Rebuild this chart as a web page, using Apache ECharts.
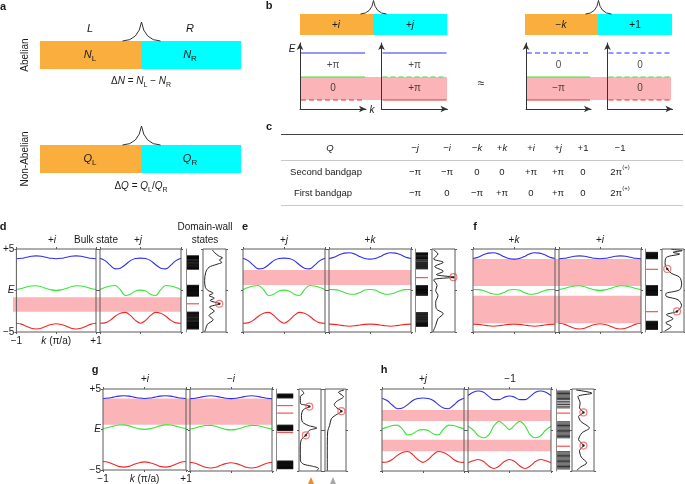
<!DOCTYPE html>
<html><head><meta charset="utf-8">
<script src="https://cdn.jsdelivr.net/npm/echarts@6.0.0/dist/echarts.min.js"></script>
<style>html,body{margin:0;padding:0;background:#fff}#c{width:685px;height:484px}</style>
</head><body><div id="c"></div>
<script>
// ================= DATA =================
const kSamples = [-1,-0.875,-0.75,-0.625,-0.5,-0.375,-0.25,-0.125,0,0.125,0.25,0.375,0.5,0.625,0.75,0.875,1];
// band structures (E vs k) for each charge type
const blueI  = [3.83,3.88,4.0,4.12,4.17,4.12,4.0,3.88,3.83,3.88,4.0,4.12,4.17,4.12,4.0,3.88,3.83];
const greenI = [0.12,0.25,0.42,0.55,0.57,0.45,0.25,0.08,0.02,0.08,0.25,0.45,0.57,0.55,0.42,0.25,0.12];
const redI   = [-3.95,-4.05,-4.3,-4.55,-4.64,-4.55,-4.3,-4.1,-4.0,-4.1,-4.3,-4.55,-4.64,-4.55,-4.3,-4.05,-3.95];
const blueJ  = [3.88,3.6,3.05,2.6,2.68,3.1,3.6,3.85,3.9,3.85,3.6,3.1,2.68,2.6,3.05,3.6,3.88];
const greenJ = [0.12,0.35,0.55,0.6,0.1,-0.6,-0.45,-0.05,0.05,-0.05,-0.45,-0.6,0.1,0.6,0.55,0.35,0.12];
const redJ   = [-3.95,-3.9,-3.6,-3.1,-2.75,-2.63,-3.0,-3.6,-3.95,-3.6,-3.0,-2.63,-2.75,-3.1,-3.6,-3.9,-3.95];
const blueK  = [3.85,4.0,4.3,4.5,4.55,4.4,4.1,3.85,3.78,3.85,4.1,4.4,4.55,4.5,4.3,4.0,3.85];
const greenK = [0.12,0.1,0.0,-0.25,-0.42,-0.45,-0.25,0.05,0.12,0.05,-0.25,-0.45,-0.42,-0.25,0.0,0.1,0.12];
const redK   = [-4.05,-4.08,-4.15,-4.25,-4.3,-4.25,-4.15,-4.08,-4.05,-4.08,-4.15,-4.25,-4.3,-4.25,-4.15,-4.08,-4.05];
const blueM1 = [4.2,4.6,4.75,4.6,4.1,3.7,3.7,4.0,4.15,4.0,3.7,3.7,4.1,4.6,4.75,4.6,4.2];
const greenM1= [0.45,0.0,-0.7,-0.95,-0.6,0.5,1.05,0.6,0.05,0.6,1.05,0.5,-0.6,-0.95,-0.7,0.0,0.45];
const redM1  = [-4.0,-3.75,-3.6,-3.85,-4.4,-4.7,-4.4,-3.85,-3.6,-3.85,-4.4,-4.7,-4.4,-3.85,-3.6,-3.75,-4.0];
// bandgap (shaded) ranges [Emin, Emax]
const dGaps = [[-2.55,-0.8]];
const eGaps = [[0.66,2.47]];
const fGaps = [[0.54,3.8],[-3.95,-0.63]];
const gGaps = [[0.65,3.85]];
const hGaps = [[1.1,2.45],[-2.6,-1.2]];
// domain-wall eigenvalues (black) and in-gap states (red)
const dStrip = [4.15,4.05,3.98,3.9,3.85,3.7,3.55,3.45,3.3,3.15,3.05,2.9,2.8,2.7,2.6, 0.58,0.5,0.42,0.33,0.25,0.15,0.05,-0.05,-0.15,-0.25,-0.35,-0.45,-0.55,-0.65, -2.65,-2.75,-2.85,-3.0,-3.1,-3.25,-3.4,-3.5,-3.65,-3.8,-3.9,-4.0,-4.1,-4.2,-4.3,-4.4,-4.5,-4.6];
const dStripRed = [-1.6];
const eStrip = [4.5,4.4,4.3,4.15,4.0,3.9,3.8,3.6,3.4,3.25,3.1,2.95,2.8,2.65, 0.55,0.45,0.35,0.25,0.15,0.08,0.0,-0.1,-0.2,-0.3,-0.42,-0.55, -2.7,-2.85,-3.0,-3.15,-3.3,-3.45,-3.6,-3.75,-3.9,-4.0,-4.1,-4.2,-4.28];
const eStripRed = [1.55];
const fStrip = [4.55,4.45,4.35,4.25,4.15,4.05,3.95,3.87, 0.55,0.45,0.35,0.25,0.15,0.05,-0.05,-0.15,-0.25,-0.35,-0.45,-0.55, -3.75,-3.85,-3.95,-4.05,-4.15,-4.25,-4.35,-4.45,-4.55,-4.65];
const fStripRed = [2.55,-2.55];
const gStrip = [4.35,4.25,4.15,4.05,3.95, 0.55,0.45,0.35,0.25,0.15,0.05,-0.03, -3.82,-3.92,-4.02,-4.12,-4.22,-4.32,-4.42,-4.52,-4.62,-4.68];
const gStripRed = [2.98,2.06,-0.3];
const hStrip = [4.75,4.6,4.45,4.3,4.15,4.0,3.85,3.7,3.5,3.3,3.1,2.9,2.7, 1.0,0.85,0.7,0.55,0.4,0.25,0.1,-0.05,-0.2,-0.35,-0.5,-0.65,-0.8,-0.95, -2.65,-2.8,-2.95,-3.1,-3.25,-3.4,-3.55,-3.7,-3.85,-4.0,-4.15,-4.3,-4.45,-4.6,-4.75];
const hStripRed = [2.06,-1.98];
// local density profiles [intensity, E] and marked states
const dProfile = [[0.41,4.88],[0.49,4.6],[0.66,4.2],[0.85,3.92],[0.71,3.68],[0.82,3.4],[0.56,3.12],[0.26,2.8],[0.12,2.2],[0.07,1.2],[0.1,0.4],[0.22,0.0],[0.44,-0.32],[0.26,-0.6],[0.49,-0.92],[0.31,-1.2],[0.71,-1.6],[0.28,-2.0],[0.49,-2.48],[0.26,-3.0],[0.44,-3.52],[0.19,-4.08],[0.12,-4.6],[0.07,-5.0]];
const dMarks = [[0.71,-1.6]];
const eProfile = [[0.07,4.88],[0.26,4.4],[0.07,3.8],[0.49,3.4],[0.12,2.88],[0.49,2.32],[0.19,1.92],[0.93,1.6],[0.07,1.28],[0.22,0.6],[0.16,0.0],[0.26,-0.6],[0.16,-1.4],[0.19,-2.2],[0.49,-2.8],[0.26,-3.4],[0.16,-4.2],[0.04,-5.0]];
const eMarks = [[0.93,1.6]];
const fProfile = [[0.42,4.96],[0.92,4.8],[0.5,4.6],[0.8,4.4],[0.2,4.0],[0.14,3.2],[0.24,2.6],[0.42,2.08],[0.8,1.6],[0.89,0.8],[0.8,0.08],[0.17,-0.4],[0.2,-0.72],[0.73,-1.12],[0.89,-1.8],[0.68,-2.52],[0.2,-2.92],[0.5,-3.4],[0.17,-3.92],[0.42,-4.32],[0.12,-4.88]];
const fMarks = [[0.24,2.6],[0.68,-2.52]];
const g1Profile = [[0.11,4.88],[0.22,4.48],[0.06,4.07],[0.08,3.19],[0.27,3.06],[0.47,2.86],[0.19,2.46],[0.11,1.77],[0.16,0.97],[0.42,0.56],[0.81,0.24],[0.47,-0.04],[0.31,-0.65],[0.11,-1.17],[0.06,-2.06],[0.06,-3.67],[0.19,-4.15],[0.58,-4.4],[0.89,-4.68],[0.81,-4.96]];
const g1Marks = [[0.47,2.86],[0.31,-0.65]];
const g2Profile = [[0.91,4.88],[0.64,4.6],[0.88,4.07],[0.56,3.5],[0.44,3.1],[0.56,2.7],[0.78,2.3],[0.48,1.77],[0.3,1.37],[0.22,0.56],[0.125,-0.24],[0.11,-2.46],[0.11,-4.96]];
const g2Marks = [[0.78,2.3]];
const hProfile = [[0.19,4.88],[0.91,4.48],[0.27,4.07],[0.37,3.27],[0.34,2.7],[0.52,2.14],[0.3,1.65],[0.4,1.05],[0.79,0.24],[0.45,-0.36],[0.3,-1.17],[0.52,-1.9],[0.34,-2.5],[0.42,-3.3],[0.67,-4.0],[0.4,-4.5],[0.22,-4.9]];
const hMarks = [[0.52,2.14],[0.52,-1.9]];
// panel b schematic levels (red, green, blue) and gap labels
const bLevels = [0.9, 3.2, 5.6];
const bGapLabels = [['+π','0'],['+π','+π'],['0','−π'],['0','0']];
// panel c table
const tableQ = ['−{it|j}','−{it|i}','−{it|k}','+{it|k}','+{it|i}','+{it|j}','+1','−1'];
const secondGap = ['−π','−π','0','0','+π','+π','0','2π{sup|(+)}'];
const firstGap  = ['−π','0','−π','+π','0','+π','0','2π{sup|(+)}'];

// ================= STYLE / LAYOUT =================
const FONT = '"Liberation Sans", Arial, Helvetica, sans-serif';
const BLUE='#2e2ef2', GREEN='#3ae43a', RED='#f02828', PINK='#fbb5b9', ORANGE='#f9ae3d', CYAN='#00ffff', FRAME='#5a5a5a', TXT='#1a1a1a';
const bands = {
  i:[blueI,greenI,redI], j:[blueJ,greenJ,redJ], k:[blueK,greenK,redK], m1:[blueM1,greenM1,redM1]
};
const grids=[], xAxes=[], yAxes=[], series=[], graphics=[];
function rich(s){
  return {
    it:{fontStyle:'italic',fontSize:s,fontFamily:FONT,color:TXT,fill:TXT},
    sub:{fontSize:Math.round(s*0.72),fontFamily:FONT,color:TXT,fill:TXT,lineHeight:Math.round(s*0.72),verticalAlign:'bottom'},
    sup:{fontSize:Math.round(s*0.62),fontFamily:FONT,color:TXT,fill:TXT,lineHeight:Math.round(s*0.62),verticalAlign:'top'}
  };
}
function T(x,y,text,o){
  o=o||{}; const s=o.size||10;
  graphics.push({type:'text',x:x,y:y,rotation:o.rot||0,silent:true,z:20,
    style:{text:text,fill:o.color||TXT,fontSize:s,fontFamily:FONT,fontStyle:o.italic?'italic':'normal',
      fontWeight:o.bold?'bold':'normal',align:o.align||'center',verticalAlign:'middle',lineHeight:s+5,rich:rich(s)}});
}
function addGrid(box,xr,yr,o){
  o=o||{};
  const gi=grids.length;
  grids.push({left:box[0],top:box[1],width:box[2],height:box[3],show:!!o.frame,borderColor:FRAME,borderWidth:1,backgroundColor:'rgba(0,0,0,0)',z:6});
  const xi=xAxes.length, yi=yAxes.length;
  const tick=(s)=>({show:s,length:2,inside:false,lineStyle:{color:FRAME,width:1}});
  const line=(l)=>Object.assign({show:false,onZero:false},l||{},{onZero:false});
  xAxes.push({gridIndex:gi,type:'value',position:'bottom',min:xr[0],max:xr[1],interval:o.xInt||(xr[1]-xr[0]),
    axisLine:line(o.xLine),axisTick:tick(!!o.ticks),splitLine:{show:false},
    axisLabel:o.xLabel||{show:false},z:6});
  yAxes.push({gridIndex:gi,type:'value',position:'left',min:yr[0],max:yr[1],interval:o.yInt||(yr[1]-yr[0]),
    axisLine:line(o.yLine),axisTick:tick(!!o.ticks||!!o.yTicks),splitLine:{show:false},
    axisLabel:o.yLabel||{show:false},z:6});
  if(o.ticks){
    xAxes.push({gridIndex:gi,type:'value',position:'top',min:xr[0],max:xr[1],interval:o.xInt||(xr[1]-xr[0]),axisLine:line(),axisTick:tick(true),splitLine:{show:false},axisLabel:{show:false},z:6});
  }
  if(o.ticks||o.yTicks){
    yAxes.push({gridIndex:gi,type:'value',position:'right',min:yr[0],max:yr[1],interval:o.yInt||(yr[1]-yr[0]),axisLine:line(),axisTick:tick(true),splitLine:{show:false},axisLabel:{show:false},z:6});
  }
  return {xi:xi,yi:yi};
}
const kLabel={show:true,fontSize:10,fontFamily:FONT,color:TXT,margin:4,
  formatter:v=>v===-1?'−1':(v===1?'+1':'{it|k} (π/a)'),rich:rich(10)};
const eLabel={show:true,fontSize:10,fontFamily:FONT,color:TXT,margin:2,
  formatter:v=>v===5?'+5':(v===-5?'−5':'{it|E}'),rich:rich(10)};

function bandPlot(box,type,labels){
  const a=addGrid(box,[-1,1],[-5,5],{frame:true,ticks:true,xInt:1,yInt:5,
    xLabel:labels?kLabel:null,yLabel:labels?eLabel:null});
  const cols=[BLUE,GREEN,RED];
  bands[type].forEach((arr,ci)=>{
    series.push({type:'line',xAxisIndex:a.xi,yAxisIndex:a.yi,data:kSamples.map((k,i)=>[k,arr[i]]),
      smooth:0.35,showSymbol:false,symbol:'none',silent:true,z:3,lineStyle:{color:cols[ci],width:1.1}});
  });
}
function gapBg(box,gaps){
  const a=addGrid(box,[0,1],[-5,5],{});
  series.push({type:'line',xAxisIndex:a.xi,yAxisIndex:a.yi,data:[[-9,-99]],showSymbol:false,silent:true,z:1,
    lineStyle:{width:0},markArea:{silent:true,itemStyle:{color:PINK},data:gaps.map(g=>[{yAxis:g[0]},{yAxis:g[1]}])}});
}
function stripPlot(box,black,red,h){
  const a=addGrid(box,[0,1],[-5,5],{yLine:{show:true,lineStyle:{color:'#888',width:1}}});
  const w=box[2]-1;
  series.push({type:'scatter',xAxisIndex:a.xi,yAxisIndex:a.yi,data:black.map(e=>[0.54,e]),symbol:'rect',
    symbolSize:[w,h],silent:true,z:3,itemStyle:{color:'#000'}});
  series.push({type:'scatter',xAxisIndex:a.xi,yAxisIndex:a.yi,data:red.map(e=>[0.54,e]),symbol:'rect',
    symbolSize:[w,1.2],silent:true,z:3,itemStyle:{color:RED}});
}
function profilePlot(box,curve,marks){
  const a=addGrid(box,[0,1],[-5,5],{frame:true,yTicks:true,yInt:5});
  series.push({type:'line',xAxisIndex:a.xi,yAxisIndex:a.yi,data:curve,smooth:0.3,showSymbol:false,silent:true,z:3,
    lineStyle:{color:'#222',width:1}});
  series.push({type:'scatter',xAxisIndex:a.xi,yAxisIndex:a.yi,data:marks,symbol:'circle',symbolSize:7,silent:true,z:4,
    itemStyle:{color:'rgba(255,255,255,0)',borderColor:'#f25a5a',borderWidth:1.2}});
  series.push({type:'scatter',xAxisIndex:a.xi,yAxisIndex:a.yi,data:marks,symbol:'circle',symbolSize:2.5,silent:true,z:5,
    itemStyle:{color:'#111'}});
}

// ---- panels d-h ----
gapBg([13,249,168,83],dGaps); bandPlot([13,249,83,83],'i',true); bandPlot([100,249,81,83],'j',false);
stripPlot([186,249,13,83],dStrip,dStripRed,1.8); profilePlot([203,249,23,83],dProfile,dMarks);
gapBg([243,249,168,83],eGaps); bandPlot([243,249,82,83],'j'); bandPlot([329,249,82,83],'k');
stripPlot([415,249,13,83],eStrip,eStripRed,1.8); profilePlot([432,249,23,83],eProfile,eMarks);
gapBg([473,249,168,83],fGaps); bandPlot([473,249,82,83],'k'); bandPlot([559,249,82,83],'i');
stripPlot([645,249,13,83],fStrip,fStripRed,1.8); profilePlot([662,249,22,83],fProfile,fMarks);
gapBg([103,389,169,82],gGaps); bandPlot([103,389,83,82],'i',true); bandPlot([190,389,82,82],'i');
stripPlot([276,389,17,82],gStrip,gStripRed,1.8); profilePlot([299,389,22,82],g1Profile,g1Marks); profilePlot([325,389,21,82],g2Profile,g2Marks);
gapBg([382,389,169,82],hGaps); bandPlot([382,389,82,82],'j'); bandPlot([468,389,83,82],'m1');
stripPlot([556,389,14,82],hStrip,hStripRed,1.0); profilePlot([572,389,22,82],hProfile,hMarks);

// ---- panel b (schematic bands) ----
function bBg(box){
  const a=addGrid(box,[0,1],[0,6.6],{});
  series.push({type:'line',xAxisIndex:a.xi,yAxisIndex:a.yi,data:[[-9,-99]],showSymbol:false,silent:true,z:1,
    lineStyle:{width:0},markArea:{silent:true,itemStyle:{color:PINK},data:[[{yAxis:bLevels[0]},{yAxis:bLevels[1]}]]}});
}
const bDash=[[true,false,false],[false,true,false],[false,false,true],[true,true,true]]; // dashed flags for red, green, blue
function bPlot(idx,box){
  const arrowLine={show:true,symbol:['none','arrow'],symbolSize:[5,7],lineStyle:{color:'#333',width:1}};
  const a=addGrid(box,[0,1],[0,6.6],{xLine:arrowLine,yLine:arrowLine});
  [RED,GREEN,BLUE].forEach((c,li)=>{
    series.push({type:'line',xAxisIndex:a.xi,yAxisIndex:a.yi,data:[[0.015,bLevels[li]],[0.985,bLevels[li]]],showSymbol:false,silent:true,z:3,
      lineStyle:{color:c,width:1.2,type:bDash[idx][li]?[5,3]:'solid'}});
  });
  const lab=bGapLabels[idx];
  series.push({type:'scatter',xAxisIndex:a.xi,yAxisIndex:a.yi,symbolSize:0,silent:true,z:4,
    data:[[0.5,(bLevels[1]+bLevels[2])/2,lab[0]],[0.5,(bLevels[0]+bLevels[1])/2,lab[1]]],
    label:{show:true,position:'inside',formatter:p=>p.data[2],fontSize:10,fontFamily:FONT,color:TXT}});
}
bBg([300,43,147,66]); bBg([526,43,145,66]);
bPlot(0,[300,43,66,66]); bPlot(1,[381.5,43,66,66]); bPlot(2,[526,43,65,66]); bPlot(3,[607.5,43,65,66]);

// ---- graphics: panel a ----
function rect(x,y,w,h,c){graphics.push({type:'rect',silent:true,z:1,shape:{x:x,y:y,width:w,height:h},style:{fill:c}});}
function bump(cx,base,top,hw){
  graphics.push({type:'bezierCurve',silent:true,z:2,shape:{x1:cx-hw,y1:base,x2:cx,y2:top,cpx1:cx-hw*0.15,cpy1:base-0.5},style:{stroke:'#333',lineWidth:1,fill:null}});
  graphics.push({type:'bezierCurve',silent:true,z:2,shape:{x1:cx+hw,y1:base,x2:cx,y2:top,cpx1:cx+hw*0.15,cpy1:base-0.5},style:{stroke:'#333',lineWidth:1,fill:null}});
}
rect(40,41,101,28,ORANGE); rect(141,41,100,28,CYAN); bump(141.5,41,22,19);
rect(40,145,101,28,ORANGE); rect(141,145,100,28,CYAN); bump(141.5,145,126,19);
T(90,29,'L',{italic:true,size:11}); T(190,29,'R',{italic:true,size:11});
T(90,55,'{it|N}{sub|L}',{size:11}); T(190,55,'{it|N}{sub|R}',{size:11});
T(141,81,'Δ{it|N} = {it|N}{sub|L} − {it|N}{sub|R}',{size:10});
T(25,55,'Abelian',{rot:Math.PI/2,size:10});
T(90,159,'{it|Q}{sub|L}',{size:11}); T(190,159,'{it|Q}{sub|R}',{size:11});
T(141,186,'Δ{it|Q} = {it|Q}{sub|L}/{it|Q}{sub|R}',{size:10});
T(25,159,'Non-Abelian',{rot:Math.PI/2,size:10});
// panel b bars
rect(300,14,73,21,ORANGE); rect(373,14,74,21,CYAN); bump(373.5,14,0.5,13);
rect(525,14,73,21,ORANGE); rect(598,14,74,21,CYAN); bump(598.5,14,0.5,13);
T(336,25,'+{it|i}'); T(410,25,'+{it|j}'); T(561,25,'−{it|k}'); T(635,25,'+1');
T(292,49,'E',{italic:true}); T(372,110,'k',{italic:true}); T(481,84,'≈',{size:12});
// panel c table
function hline(x1,x2,y,c,w){graphics.push({type:'line',silent:true,z:2,shape:{x1:x1,y1:y,x2:x2,y2:y},style:{stroke:c,lineWidth:w}});}
hline(281,683,134.5,'#444',1); hline(281,683,160.5,'#bbb',0.8); hline(281,683,205.5,'#bbb',0.8);
const colX=[415,447,477,502,531,558,583,620];
T(330,148,'Q',{italic:true,size:9.5});
T(326,172,'Second bandgap',{size:9.5}); T(323,193,'First bandgap',{size:9.5});
tableQ.forEach((q,i)=>T(colX[i],148,q,{size:9.5}));
secondGap.forEach((q,i)=>T(colX[i],172,q,{size:9.5}));
firstGap.forEach((q,i)=>T(colX[i],193,q,{size:9.5}));
// panel letters
[['a',3,7],['b',269,6],['c',269,127],['d',3,227],['e',245,227],['f',475,227],['g',95,370],['h',384,370]].forEach(p=>T(p[1],p[2],p[0],{bold:true,size:11}));
// panel titles
T(52,240,'+{it|i}'); T(96,240,'Bulk state'); T(138,240,'+{it|j}');
T(205,227,'Domain-wall'); T(205,240,'states');
T(284,240,'+{it|j}'); T(370,240,'+{it|k}');
T(514,240,'+{it|k}'); T(600,240,'+{it|i}');
T(145,379,'+{it|i}'); T(231,379,'−{it|i}');
T(423,379,'+{it|j}'); T(510,379,'−1');
// triangles under g profiles
graphics.push({type:'polygon',silent:true,z:2,shape:{points:[[311,477],[308,484],[314,484]]},style:{fill:'#f08a24'}});
graphics.push({type:'polygon',silent:true,z:2,shape:{points:[[333,477],[330,484],[336,484]]},style:{fill:'#a8a8a8'}});

const chart=echarts.init(document.getElementById('c'),null,{renderer:'canvas'});
chart.setOption({animation:false,backgroundColor:'#fff',grid:grids,xAxis:xAxes,yAxis:yAxes,series:series,graphic:graphics});
</script></body></html>
